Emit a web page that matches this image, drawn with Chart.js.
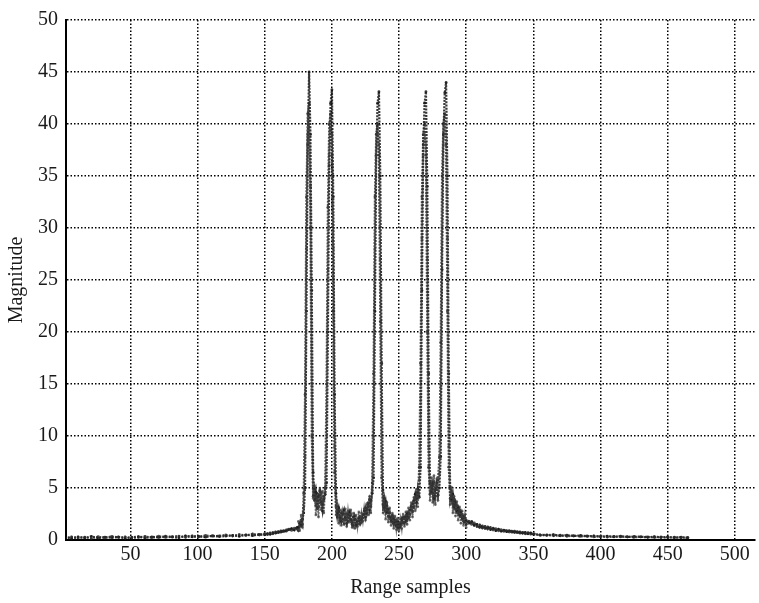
<!DOCTYPE html>
<html>
<head>
<meta charset="utf-8">
<script src="https://cdn.jsdelivr.net/npm/chart.js@4.4.0/dist/chart.umd.min.js"></script>
<style>
html,body{margin:0;padding:0;background:#fff;}
canvas{display:block;}
</style>
</head>
<body>
<canvas id="c" width="759" height="603"></canvas>
<script>
// ---- Tick labels ----
const xTicks = [50, 100, 150, 200, 250, 300, 350, 400, 450, 500];
const yTicks = [0, 5, 10, 15, 20, 25, 30, 35, 40, 45, 50];

// ---- Range-sample grid (start, step) for each stretch of the profile ----
const lowStart = 1,    lowStep = 5;    // samples 1..146
const riseStart = 150, riseStep = 2;   // samples 150..174
const peakStart = 175, peakStep = 1;   // samples 175..300
const decayStart = 302, decayStep = 2; // samples 302..350
const tailStart = 355, tailStep = 5;   // samples 355..465

// ---- Magnitude, trace A ----
const lowA = [0.25,0.15,0.3,0.2,0.35,0.18,0.28,0.22,0.3,0.15,0.26,0.33,0.2,0.3,0.24,0.36,0.28,0.22,0.4,0.3,0.35,0.27,0.42,0.33,0.38,0.45,0.36,0.5,0.42,0.55];
const riseA = [0.5,0.62,0.55,0.7,0.66,0.8,0.75,0.9,0.85,1.0,1.1,0.95,1.2];
const peakA = [
  1.2,1.6,1.4,2.0,2.6,5.0,22,38,45,39,
  24,6.5,3.8,4.6,3.0,4.2,4.8,3.6,2.8,3.9,
  4.4,5.5,20,36,42,43.3,33,14,4.5,2.6,
  3.1,2.2,1.8,2.5,2.9,2.1,1.6,2.4,2.7,1.9,
  1.5,2.2,2.0,1.4,1.8,2.1,1.6,2.0,2.4,2.8,
  2.2,3.0,3.6,2.9,3.8,4.5,6.0,22,37,42,
  43.1,35,17,4.8,3.1,3.7,2.6,3.0,2.2,1.8,
  2.4,1.6,1.9,1.3,1.7,1.2,1.5,2.0,1.6,2.2,
  1.8,2.5,2.1,2.9,3.3,2.7,3.8,4.4,3.6,4.9,
  4.1,7,24,38,42,43.1,34,16,5.5,4.6,
  5.4,4.0,4.8,5.5,4.3,5.0,8,26,39,43,
  44,35,16,5,3.9,4.4,3.2,3.6,2.8,3.1,
  2.4,2.7,2.0,2.3,1.7,1.9];
const decayA = [1.6,1.8,1.4,1.5,1.2,1.35,1.1,1.25,1.0,1.15,0.9,1.05,0.85,0.95,0.8,0.9,0.75,0.85,0.7,0.78,0.65,0.72,0.6,0.68,0.55];
const tailA = [0.5,0.45,0.52,0.4,0.46,0.38,0.44,0.35,0.4,0.32,0.38,0.3,0.36,0.28,0.34,0.3,0.26,0.32,0.25,0.3,0.22,0.28,0.2];

// ---- Magnitude, trace B ----
const lowB = [0.18,0.3,0.2,0.27,0.16,0.32,0.2,0.35,0.24,0.3,0.2,0.25,0.34,0.22,0.36,0.25,0.32,0.38,0.26,0.4,0.3,0.44,0.35,0.4,0.48,0.38,0.52,0.44,0.58,0.48];
const riseB = [0.6,0.52,0.68,0.6,0.78,0.7,0.88,0.8,0.96,1.05,0.92,1.15,1.05];
const peakB = [
  0.9,1.3,1.9,1.5,4.5,14,33,41,42,30,
  10,4.2,4.9,3.3,4.5,3.1,3.8,4.6,3.4,4.2,
  5.0,15,32,40,41,37,22,6.5,3.2,2.2,
  2.8,1.9,2.6,2.0,1.5,2.3,2.6,1.8,2.1,2.5,
  1.7,1.4,2.3,1.9,1.5,1.8,2.3,1.7,2.1,2.5,
  3.1,2.6,3.3,3.9,3.2,5.5,16,33,39,40,
  37,21,6,3.4,4.0,2.8,3.3,2.3,2.7,2.0,
  1.7,2.1,1.4,1.8,1.2,1.6,1.3,1.8,2.2,1.7,
  2.3,2.0,2.7,2.4,3.0,3.5,3.1,3.9,4.6,4.0,
  7,17,33,39,40,37,20,7,4.4,5.3,
  4.5,5.6,4.2,5.0,5.8,8,19,35,40,41,
  38,22,7,4.0,4.8,3.5,3.9,3.0,3.4,2.6,
  2.9,2.2,2.5,1.8,2.1,1.5];
const decayB = [1.8,1.5,1.65,1.3,1.45,1.15,1.3,1.05,1.2,0.95,1.1,0.88,1.0,0.82,0.92,0.76,0.86,0.72,0.8,0.66,0.74,0.6,0.7,0.56,0.62];
const tailB = [0.45,0.5,0.4,0.47,0.36,0.42,0.34,0.4,0.3,0.37,0.28,0.35,0.3,0.33,0.26,0.31,0.3,0.24,0.29,0.22,0.27,0.21,0.25];

// ---- Magnitude, trace C (target region only, samples 175..300) ----
const peakC = [
  1.8,0.9,2.4,1.2,3.1,8,28,39,40,34,
  15,4,5.2,2.4,4.0,2.2,5.0,2.9,4.7,2.6,
  5.0,9,26,37,40,39,28,9,2.4,3.3,
  1.6,2.9,1.4,2.7,1.9,3.0,1.3,2.8,1.7,2.9,
  1.2,2.6,1.1,2.4,1.3,2.7,1.5,2.6,1.8,3.0,
  1.9,3.5,2.4,4.2,2.6,4.8,10,28,37,39,
  38,27,8,2.6,3.9,2.0,3.6,1.7,3.1,1.4,
  2.6,1.1,2.3,1.0,2.1,0.9,2.0,1.1,2.5,1.3,
  2.7,1.5,3.1,1.9,3.6,2.2,4.1,2.8,4.9,3.2,
  5.8,11,29,37,39,38,27,9,3.8,6.0,
  3.6,6.2,3.4,5.9,3.8,6.4,10,28,38,40,
  39,29,9,3.4,5.1,2.6,4.2,2.3,3.7,1.9,
  3.2,1.6,2.8,1.4,2.4,1.2];

// ---- Build {x,y} points: x is the range-sample index of each value ----
function seg(start, step, vals) {
  return vals.map((v, i) => ({ x: start + i * step, y: v }));
}
function trace(low, rise, peak, decay, tail) {
  return [].concat(
    seg(lowStart, lowStep, low),
    seg(riseStart, riseStep, rise),
    seg(peakStart, peakStep, peak),
    seg(decayStart, decayStep, decay),
    seg(tailStart, tailStep, tail)
  );
}

const serif = 'Liberation Serif, Times New Roman, serif';
const dsStyle = (col, w, r) => ({
  borderColor: col,
  borderWidth: w,
  borderDash: [2, 1.2],
  pointRadius: r,
  pointBackgroundColor: col,
  pointBorderWidth: 0,
  tension: 0,
  fill: false
});

new Chart(document.getElementById('c').getContext('2d'), {
  type: 'line',
  data: {
    datasets: [
      Object.assign({ label: 'C', data: seg(peakStart, peakStep, peakC) }, dsStyle('rgba(60,60,60,0.75)', 1.8, 1.3)),
      Object.assign({ label: 'B', data: trace(lowB, riseB, peakB, decayB, tailB) }, dsStyle('rgba(40,40,40,0.8)', 2.2, 1.4)),
      Object.assign({ label: 'A', data: trace(lowA, riseA, peakA, decayA, tailA) }, dsStyle('rgba(20,20,20,0.85)', 2.2, 1.4))
    ]
  },
  options: {
    responsive: false,
    animation: false,
    devicePixelRatio: 1,
    layout: { padding: { top: 15, right: 1, left: 0, bottom: 0 } },
    plugins: { legend: { display: false }, tooltip: { enabled: false } },
    scales: {
      x: {
        type: 'linear',
        min: 2,
        max: 515,
        afterBuildTicks: s => { s.ticks = xTicks.map(v => ({ value: v })); },
        afterFit: s => { s.height = 63; },
        grid: { color: '#000', lineWidth: 1.5, drawTicks: false },
        border: { display: true, color: '#000', width: 2, dash: [1.5, 2] },
        ticks: { padding: 3, color: '#1a1a1a', font: { family: serif, size: 20 }, maxRotation: 0, autoSkip: false },
        title: { display: true, text: 'Range samples', color: '#1a1a1a', font: { family: serif, size: 20 }, padding: { top: 0, bottom: 3 } }
      },
      y: {
        min: 0,
        max: 50,
        afterBuildTicks: s => { s.ticks = yTicks.map(v => ({ value: v })); },
        afterFit: s => { s.width = 66; },
        grid: { color: '#000', lineWidth: 1.5, drawTicks: false },
        border: { display: true, color: '#000', width: 2, dash: [1.5, 2] },
        ticks: { padding: 8, color: '#1a1a1a', font: { family: serif, size: 20 }, autoSkip: false },
        title: { display: true, text: 'Magnitude', color: '#1a1a1a', font: { family: serif, size: 20 }, padding: { top: 5, bottom: 0 } }
      }
    }
  }
});
</script>
</body>
</html>
